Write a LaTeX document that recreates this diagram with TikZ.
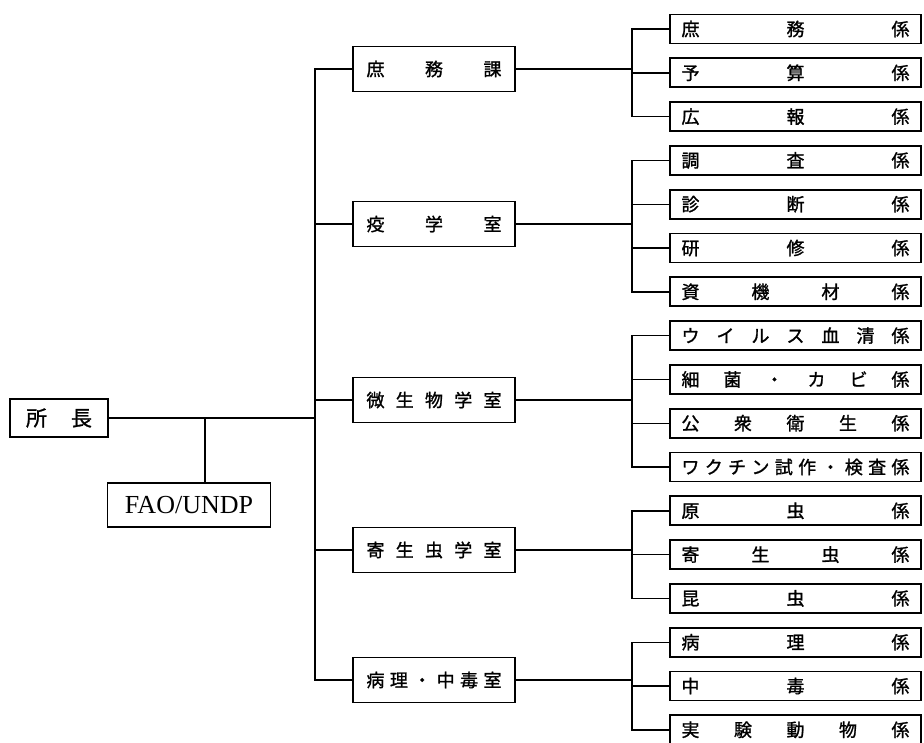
\documentclass[tikz,border=0pt]{standalone}
\usepackage{fontspec}
\setmainfont{Liberation Serif}
\newfontfamily\jpfont{Noto Sans CJK JP}[FakeBold=1.3]
\usetikzlibrary{positioning}

\begin{document}
\begin{tikzpicture}[
  x=1pt, y=-1pt,
  node distance=13pt,
  head/.style={draw, line width=1.8pt, minimum width=98pt, minimum height=38pt, inner sep=0pt, font=\jpfont\fontsize{21}{24}\selectfont},
  sect/.style={draw, line width=1.8pt, minimum width=162pt, minimum height=45pt, inner sep=0pt, font=\jpfont\fontsize{18}{20}\selectfont},
  team/.style={draw, line width=1.8pt, minimum width=251pt, minimum height=29pt, inner sep=0pt, font=\jpfont\fontsize{18}{20}\selectfont},
  conn/.style={line width=1.4pt}
]
  \useasboundingbox (0,0) rectangle (924,742);

  % head and advisor
  \node[head] (chief) at (59,418) {\makebox[66pt]{所\hfill 長}};
  \node[head, minimum width=163pt, minimum height=44pt, font=\fontsize{26}{28}\selectfont] (fao) at (189,505) {FAO/UNDP};

  % sections
  \node[sect] (s1) at (434,69) {\makebox[135pt]{庶\hfill 務\hfill 課}};
  \node[sect] (s2) at (434,224) {\makebox[135pt]{疫\hfill 学\hfill 室}};
  \node[sect] (s3) at (434,400) {\makebox[135pt]{微\hfill 生\hfill 物\hfill 学\hfill 室}};
  \node[sect] (s4) at (434,550) {\makebox[135pt]{寄\hfill 生\hfill 虫\hfill 学\hfill 室}};
  \node[sect] (s5) at (434,680) {\makebox[135pt]{病\hfill 理\hfill ・\hfill 中\hfill 毒\hfill 室}};

  % teams
  \node[team] (t1) at (795.5,29) {\makebox[228pt]{庶\hfill 務\hfill 係}};
  \node[team, below=of t1] (t2) {\makebox[228pt]{予\hfill 算\hfill 係}};
  \node[team, below=of t2] (t3) {\makebox[228pt]{広\hfill 報\hfill 係}};
  \node[team, below=of t3] (t4) {\makebox[228pt]{調\hfill 査\hfill 係}};
  \node[team, below=of t4] (t5) {\makebox[228pt]{診\hfill 断\hfill 係}};
  \node[team, below=of t5] (t6) {\makebox[228pt]{研\hfill 修\hfill 係}};
  \node[team, below=of t6] (t7) {\makebox[228pt]{資\hfill 機\hfill 材\hfill 係}};
  \node[team, below=of t7] (t8) {\makebox[228pt]{ウ\hfill イ\hfill ル\hfill ス\hfill 血\hfill 清\hfill 係}};
  \node[team, below=of t8] (t9) {\makebox[228pt]{細\hfill 菌\hfill ・\hfill カ\hfill ビ\hfill 係}};
  \node[team, below=of t9] (t10) {\makebox[228pt]{公\hfill 衆\hfill 衛\hfill 生\hfill 係}};
  \node[team, below=of t10] (t11) {\makebox[228pt]{ワ\hfill ク\hfill チ\hfill ン\hfill 試\hfill 作\hfill ・\hfill 検\hfill 査\hfill 係}};
  \node[team, below=of t11] (t12) {\makebox[228pt]{原\hfill 虫\hfill 係}};
  \node[team, below=of t12] (t13) {\makebox[228pt]{寄\hfill 生\hfill 虫\hfill 係}};
  \node[team, below=of t13] (t14) {\makebox[228pt]{昆\hfill 虫\hfill 係}};
  \node[team, below=of t14] (t15) {\makebox[228pt]{病\hfill 理\hfill 係}};
  \node[team, below=of t15] (t16) {\makebox[228pt]{中\hfill 毒\hfill 係}};
  \node[team, below=of t16] (t17) {\makebox[228pt]{実\hfill 験\hfill 動\hfill 物\hfill 係}};

  % trunk and bracket lines
  \coordinate (fx) at (205,0);
  \coordinate (tx) at (315,0);
  \coordinate (bx) at (632,0);

  \draw[conn] (chief.east) -- (chief.east -| tx);
  \draw[conn] (chief.east -| fx) -- (fao.north -| fx);
  \draw[conn] (s1.west) -- (s1.west -| tx) |- (s5.west);
  \draw[conn] (s2.west) -- (s2.west -| tx);
  \draw[conn] (s3.west) -- (s3.west -| tx);
  \draw[conn] (s4.west) -- (s4.west -| tx);

  \draw[conn] (s1.east) -- (s1.east -| bx);
  \draw[conn] (t1.west) -- (t1.west -| bx) |- (t3.west);
  \draw[conn] (t2.west) -- (t2.west -| bx);

  \draw[conn] (s2.east) -- (s2.east -| bx);
  \draw[conn] (t4.west) -- (t4.west -| bx) |- (t7.west);
  \draw[conn] (t5.west) -- (t5.west -| bx);
  \draw[conn] (t6.west) -- (t6.west -| bx);

  \draw[conn] (s3.east) -- (s3.east -| bx);
  \draw[conn] (t8.west) -- (t8.west -| bx) |- (t11.west);
  \draw[conn] (t9.west) -- (t9.west -| bx);
  \draw[conn] (t10.west) -- (t10.west -| bx);

  \draw[conn] (s4.east) -- (s4.east -| bx);
  \draw[conn] (t12.west) -- (t12.west -| bx) |- (t14.west);
  \draw[conn] (t13.west) -- (t13.west -| bx);

  \draw[conn] (s5.east) -- (s5.east -| bx);
  \draw[conn] (t15.west) -- (t15.west -| bx) |- (t17.west);
  \draw[conn] (t16.west) -- (t16.west -| bx);
\end{tikzpicture}
\end{document}
